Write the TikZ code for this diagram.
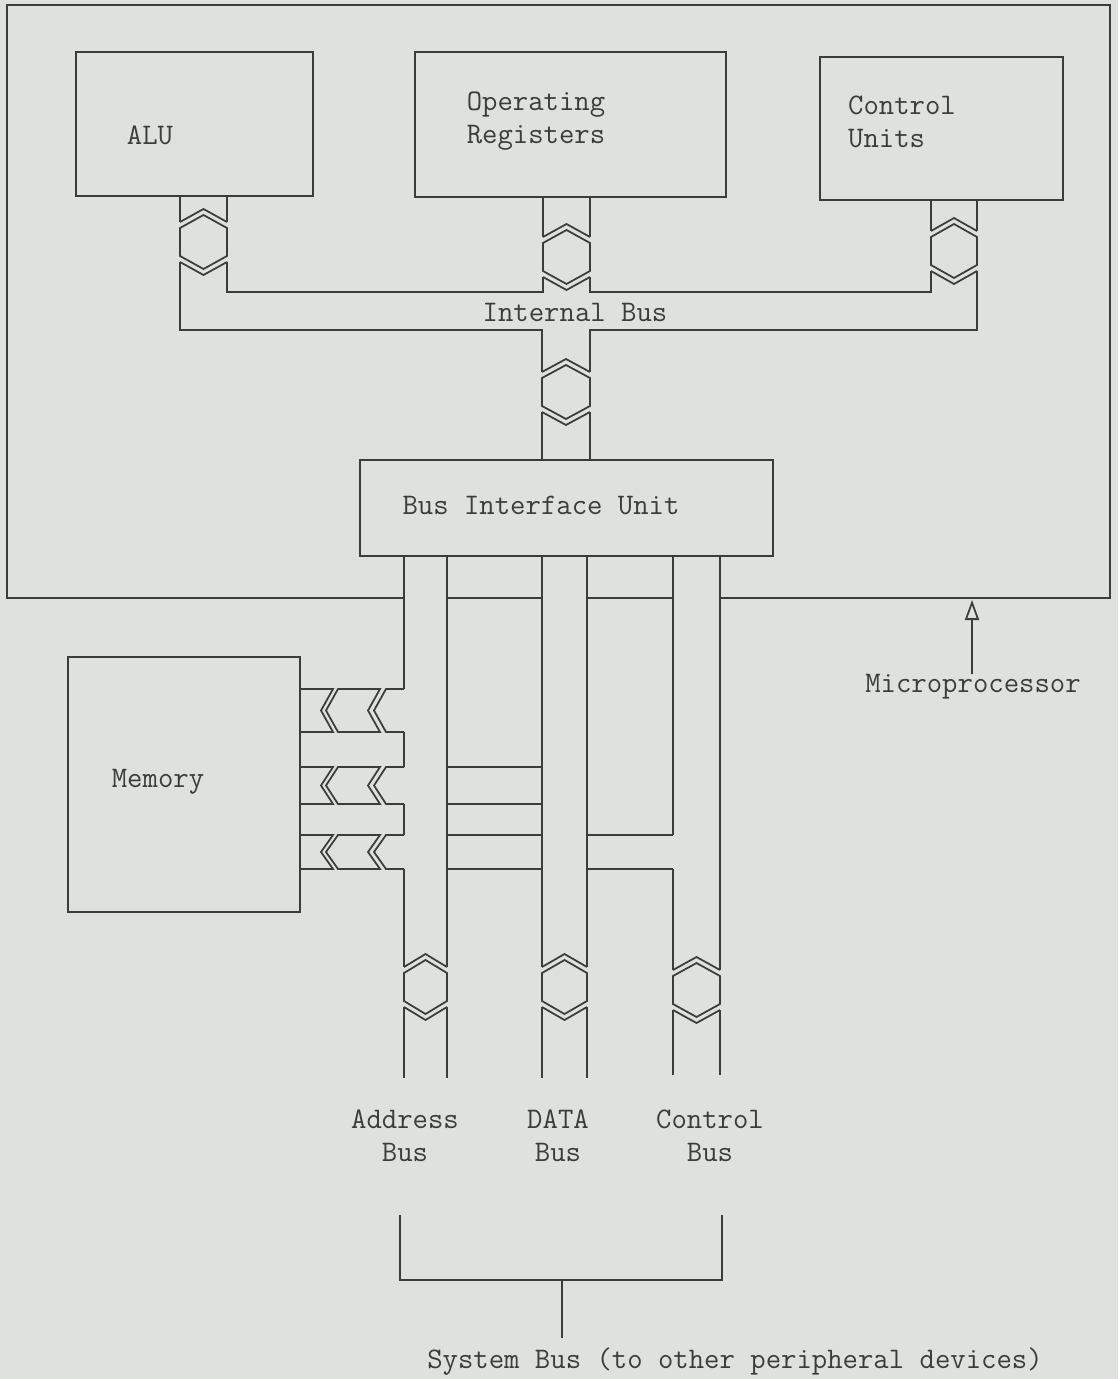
\documentclass[tikz,border=0pt]{standalone}
\usepackage{fontspec}
\usetikzlibrary{arrows.meta}

\definecolor{paper}{RGB}{222,226,222}
\definecolor{ink}{RGB}{60,60,60}

\tikzset{
  unit/.style={draw=ink, line width=1pt, inner sep=0pt},
  lbl/.style={text=ink, font=\ttfamily\fontsize{17}{18.7}\selectfont, inner sep=0pt},
  wall/.style={draw=ink, line width=1pt},
}

% break in a vertical bus: left x, right x, centre y
\newcommand\vbreak[3]{
  \draw[wall] (#1,#3-20) -- ({(#1+#2)/2},#3-33) -- (#2,#3-20);
  \draw[wall] ({(#1+#2)/2},#3-27) -- (#1,#3-14) -- (#1,#3+14)
    -- ({(#1+#2)/2},#3+27) -- (#2,#3+14) -- (#2,#3-14) -- cycle;
  \draw[wall] (#1,#3+20) -- ({(#1+#2)/2},#3+33) -- (#2,#3+20);
}
% link out of the memory: top y, bottom y
\newcommand\memlink[2]{
  \draw[wall] (300,#1) -- (333,#1) -- (321,{(#1+#2)/2}) -- (333,#2) -- (300,#2);
  \draw[wall] (338,#1) -- (326,{(#1+#2)/2}) -- (338,#2) -- (380,#2)
    -- (368,{(#1+#2)/2}) -- (380,#1) -- cycle;
  \draw[wall] (404,#1) -- (386,#1) -- (374,{(#1+#2)/2}) -- (386,#2) -- (404,#2);
}

\begin{document}
\begin{tikzpicture}[x=0.2mm,y=-0.2mm]
  \fill[paper] (0,0) rectangle (1118,1379);
  \useasboundingbox (0,0) rectangle (1118,1379);

  % units
  \node[unit, minimum width=47.4mm, minimum height=28.8mm] (alu) at (194.5,124) {};
  \node[unit, minimum width=62.2mm, minimum height=29mm] (regs) at (570.5,124.5) {};
  \node[unit, minimum width=48.6mm, minimum height=28.6mm] (ctrl) at (941.5,128.5) {};
  \node[unit, minimum width=82.6mm, minimum height=19.2mm] (biu) at (566.5,508) {};
  \node[unit, minimum width=46.4mm, minimum height=51mm] (mem) at (184,784.5) {};

  \node[lbl] (alutext) at (150,135) {ALU};
  \node[lbl, align=left] (regstext) at (536,121) {Operating\\Registers};
  \node[lbl, align=left] (ctrltext) at (902,122) {Control\\Units};
  \node[lbl] (biutext) at (541,505) {Bus Interface Unit};
  \node[lbl] (memtext) at (158,782) {Memory};

  % microprocessor boundary
  \draw[wall] (404,598) -- (7,598) -- (7,5) -- (1110,5) -- (1110,598) -- (720,598);
  \draw[wall] (447,598) -- (542,598);
  \draw[wall] (587,598) -- (673,598);

  % internal bus
  \draw[wall] (alu.south -| 180,0) -- (180,222);
  \draw[wall] (alu.south -| 227,0) -- (227,222);
  \vbreak{180}{227}{242}
  \draw[wall] (180,262) -- (180,330) -- (542,330) -- (542,372);
  \draw[wall] (227,262) -- (227,292) -- (543,292) -- (543,277);

  \draw[wall] (regs.south -| 543,0) -- (543,237);
  \draw[wall] (regs.south -| 590,0) -- (590,237);
  \vbreak{543}{590}{257}
  \draw[wall] (590,277) -- (590,292) -- (931,292) -- (931,271);

  \draw[wall] (ctrl.south -| 931,0) -- (931,231);
  \draw[wall] (ctrl.south -| 977,0) -- (977,231);
  \vbreak{931}{977}{251}
  \draw[wall] (977,271) -- (977,330) -- (590,330) -- (590,372);

  \vbreak{542}{590}{392}
  \draw[wall] (542,412) -- (biu.north -| 542,0);
  \draw[wall] (590,412) -- (biu.north -| 590,0);

  \node[lbl] (inttext) at (575,312) {Internal Bus};

  % system buses
  \draw[wall] (biu.south -| 404,0) -- (404,689);
  \draw[wall] (404,732) -- (404,767);
  \draw[wall] (404,804) -- (404,835);
  \draw[wall] (404,869) -- (404,967);
  \draw[wall] (biu.south -| 447,0) -- (447,967);
  \vbreak{404}{447}{987}
  \draw[wall] (404,1007) -- (404,1078);
  \draw[wall] (447,1007) -- (447,1078);

  \draw[wall] (biu.south -| 542,0) -- (542,967);
  \draw[wall] (biu.south -| 587,0) -- (587,967);
  \vbreak{542}{587}{987}
  \draw[wall] (542,1007) -- (542,1078);
  \draw[wall] (587,1007) -- (587,1078);

  \draw[wall] (biu.south -| 673,0) -- (673,835);
  \draw[wall] (673,869) -- (673,970);
  \draw[wall] (biu.south -| 720,0) -- (720,970);
  \vbreak{673}{720}{990}
  \draw[wall] (673,1010) -- (673,1075);
  \draw[wall] (720,1010) -- (720,1075);

  % memory links
  \memlink{689}{732}
  \memlink{767}{804}
  \memlink{835}{869}
  \foreach \y in {767,804,835,869} {
    \draw[wall] (447,\y) -- (542,\y);
  }
  \foreach \y in {835,869} {
    \draw[wall] (587,\y) -- (673,\y);
  }

  % labels and system bus bracket
  \node[lbl, align=center] (addrtext) at (405,1136) {Address\\Bus};
  \node[lbl, align=center] (datatext) at (558,1136) {DATA\\Bus};
  \node[lbl, align=center] (ctlbustext) at (710,1136) {Control\\Bus};

  \coordinate (brl) at (400,1215);
  \coordinate (brr) at (722,1215);
  \coordinate (stem) at (562,1280);
  \draw[wall] (brl) -- (brl |- stem) -- (brr |- stem) -- (brr);
  \draw[wall] (stem) -- ++(0,58);
  \node[lbl] (systext) at (735,1362) {System Bus (to other peripheral devices)};

  \node[lbl] (mptext) at (973,687) {Microprocessor};
  \draw[wall, -{Triangle[open, length=4mm, width=2.8mm]}] (mptext.north -| 972,0) -- (972,600);
\end{tikzpicture}
\end{document}
